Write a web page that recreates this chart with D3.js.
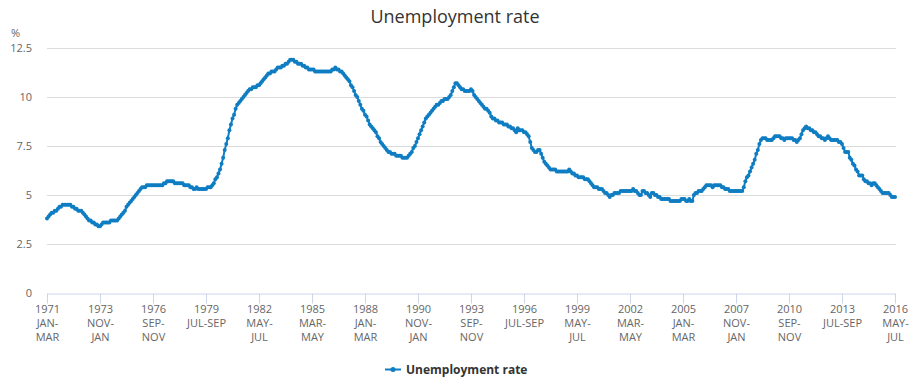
<!DOCTYPE html>
<html lang="en">
<head>
<meta charset="UTF-8">
<title>Unemployment rate</title>
<style>
  body { margin: 0; background: #fff; font-family: "Open Sans", sans-serif; }
  .title { font-size: 18px; fill: #333; }
  .tick text, .unit { font-size: 11px; fill: #666; }
  .grid line { stroke: #dcdcdc; stroke-width: 1; }
  .legend text { font-size: 12px; font-weight: bold; fill: #333; }
</style>
</head>
<body>
<svg id="chart" width="910" height="382"></svg>
<script src="https://cdn.jsdelivr.net/npm/d3@7"></script>
<script>
// rolling three-month periods, one value per starting month
var months = ["JAN", "FEB", "MAR", "APR", "MAY", "JUN", "JUL", "AUG", "SEP", "OCT", "NOV", "DEC"];
var firstYear = 1971;

// unemployment rate, % (1971 JAN-MAR onwards)
var rate1970s = [
  3.8, 3.9, 4.0, 4.1, 4.1, 4.2, 4.2, 4.3, 4.4, 4.4, 4.5, 4.5,
  4.5, 4.5, 4.5, 4.5, 4.4, 4.4, 4.3, 4.3, 4.2, 4.2, 4.2, 4.1,
  4.0, 3.9, 3.8, 3.7, 3.7, 3.6, 3.6, 3.5, 3.5, 3.4, 3.4, 3.5,
  3.6, 3.6, 3.6, 3.6, 3.6, 3.7, 3.7, 3.7, 3.7, 3.7, 3.8, 3.9,
  4.0, 4.1, 4.2, 4.4, 4.5, 4.6, 4.7, 4.8, 4.9, 5.0, 5.1, 5.2,
  5.3, 5.4, 5.4, 5.4, 5.5, 5.5, 5.5, 5.5, 5.5, 5.5, 5.5, 5.5,
  5.5, 5.5, 5.5, 5.6, 5.6, 5.7, 5.7, 5.7, 5.7, 5.7, 5.6, 5.6,
  5.6, 5.6, 5.6, 5.6, 5.5, 5.5, 5.5, 5.5, 5.4, 5.4, 5.3, 5.3,
  5.4, 5.3, 5.3, 5.3, 5.3, 5.3, 5.3, 5.4, 5.4, 5.4, 5.5, 5.6
];
var rate1980s = [
  5.8, 5.9, 6.1, 6.3, 6.6, 6.9, 7.3, 7.6, 7.9, 8.3, 8.6, 8.9,
  9.1, 9.4, 9.6, 9.7, 9.8, 9.9, 10.0, 10.1, 10.2, 10.3, 10.4, 10.4,
  10.5, 10.5, 10.5, 10.6, 10.6, 10.7, 10.8, 10.9, 11.0, 11.1, 11.2, 11.2,
  11.3, 11.3, 11.3, 11.4, 11.5, 11.5, 11.5, 11.6, 11.6, 11.7, 11.7, 11.8,
  11.9, 11.9, 11.9, 11.8, 11.8, 11.7, 11.7, 11.7, 11.6, 11.6, 11.5, 11.5,
  11.4, 11.4, 11.4, 11.4, 11.3, 11.3, 11.3, 11.3, 11.3, 11.3, 11.3, 11.3,
  11.3, 11.3, 11.3, 11.4, 11.4, 11.5, 11.4, 11.4, 11.3, 11.3, 11.2, 11.1,
  11.0, 10.9, 10.8, 10.6, 10.5, 10.3, 10.1, 10.0, 9.8, 9.6, 9.4, 9.3,
  9.1, 9.0, 8.8, 8.6, 8.5, 8.4, 8.3, 8.2, 8.0, 7.9, 7.7, 7.6,
  7.5, 7.4, 7.3, 7.2, 7.2, 7.1, 7.1, 7.1, 7.0, 7.0, 7.0, 7.0
];
var rate1990s = [
  6.9, 6.9, 6.9, 6.9, 7.0, 7.1, 7.2, 7.4, 7.5, 7.7, 7.9, 8.1,
  8.3, 8.5, 8.7, 8.9, 9.0, 9.1, 9.2, 9.3, 9.4, 9.5, 9.6, 9.6,
  9.7, 9.8, 9.8, 9.9, 9.9, 9.9, 10.0, 10.1, 10.3, 10.5, 10.7, 10.7,
  10.6, 10.5, 10.4, 10.4, 10.3, 10.3, 10.3, 10.3, 10.4, 10.3, 10.1, 10.0,
  9.9, 9.8, 9.7, 9.6, 9.5, 9.4, 9.4, 9.3, 9.2, 9.0, 8.9, 8.9,
  8.8, 8.8, 8.7, 8.7, 8.7, 8.6, 8.6, 8.6, 8.5, 8.5, 8.4, 8.4,
  8.3, 8.2, 8.4, 8.3, 8.3, 8.3, 8.2, 8.2, 8.1, 8.0, 7.7, 7.4,
  7.3, 7.2, 7.2, 7.3, 7.3, 7.1, 6.9, 6.7, 6.6, 6.5, 6.4, 6.3,
  6.3, 6.3, 6.3, 6.2, 6.2, 6.2, 6.2, 6.2, 6.2, 6.2, 6.2, 6.3,
  6.2, 6.1, 6.1, 6.0, 6.0, 5.9, 5.9, 5.9, 5.9, 5.8, 5.8, 5.8
];
var rate2000s = [
  5.7, 5.6, 5.5, 5.4, 5.4, 5.4, 5.3, 5.3, 5.3, 5.2, 5.1, 5.1,
  5.0, 4.9, 5.0, 5.0, 5.1, 5.1, 5.1, 5.1, 5.2, 5.2, 5.2, 5.2,
  5.2, 5.2, 5.2, 5.2, 5.3, 5.2, 5.2, 5.1, 5.0, 5.0, 5.2, 5.2,
  5.1, 5.1, 5.0, 4.9, 5.1, 5.1, 5.0, 5.0, 4.9, 4.9, 4.8, 4.8,
  4.8, 4.8, 4.8, 4.8, 4.7, 4.7, 4.7, 4.7, 4.7, 4.7, 4.7, 4.8,
  4.8, 4.8, 4.7, 4.7, 4.8, 4.7, 4.7, 5.0, 5.1, 5.1, 5.2, 5.2,
  5.2, 5.3, 5.4, 5.5, 5.5, 5.5, 5.5, 5.4, 5.5, 5.5, 5.5, 5.5,
  5.5, 5.4, 5.4, 5.3, 5.3, 5.3, 5.2, 5.2, 5.2, 5.2, 5.2, 5.2,
  5.2, 5.2, 5.2, 5.4, 5.7, 5.9, 6.0, 6.2, 6.4, 6.6, 6.8, 7.1,
  7.3, 7.6, 7.8, 7.9, 7.9, 7.9, 7.8, 7.8, 7.8, 7.8, 7.9, 8.0
];
var rate2010s = [
  8.0, 8.0, 8.0, 7.9, 7.9, 7.8, 7.9, 7.9, 7.9, 7.9, 7.9, 7.8,
  7.8, 7.7, 7.8, 7.9, 8.1, 8.3, 8.4, 8.5, 8.4, 8.4, 8.3, 8.3,
  8.2, 8.2, 8.1, 8.0, 8.0, 7.9, 7.9, 7.8, 7.9, 8.0, 7.9, 7.8,
  7.8, 7.8, 7.8, 7.8, 7.7, 7.7, 7.6, 7.4, 7.2, 7.2, 7.2, 6.9,
  6.8, 6.6, 6.5, 6.3, 6.2, 6.0, 6.0, 6.0, 5.8, 5.7, 5.7, 5.6,
  5.6, 5.5, 5.6, 5.6, 5.5, 5.4, 5.3, 5.2, 5.1, 5.1, 5.1, 5.1,
  5.1, 5.0, 4.9, 4.9, 4.9
];

var yTicks = [0, 2.5, 5, 7.5, 10, 12.5];
var tickStep = 34;
var tickLabels = [
  ["1971", "JAN-", "MAR"], ["1973", "NOV-", "JAN"], ["1976", "SEP-", "NOV"],
  ["1979", "JUL-SEP"], ["1982", "MAY-", "JUL"], ["1985", "MAR-", "MAY"],
  ["1988", "JAN-", "MAR"], ["1990", "NOV-", "JAN"], ["1993", "SEP-", "NOV"],
  ["1996", "JUL-SEP"], ["1999", "MAY-", "JUL"], ["2002", "MAR-", "MAY"],
  ["2005", "JAN-", "MAR"], ["2007", "NOV-", "JAN"], ["2010", "SEP-", "NOV"],
  ["2013", "JUL-SEP"], ["2016", "MAY-", "JUL"]
];

var values = rate1970s.concat(rate1980s, rate1990s, rate2000s, rate2010s);
var periods = values.map(function(v, i) {
  var y = firstYear + Math.floor(i / 12), m = i % 12;
  return y + " " + months[m] + "-" + months[(m + 2) % 12];
});
var data = values.map(function(v, i) { return {period: periods[i], value: v}; });

var lineColor = "#0f7dc2";
var svg = d3.select("#chart");
var margin = {left: 47, right: 15, top: 48, bottom: 89};
var width = 910, height = 382;

var x = d3.scalePoint()
    .domain(periods)
    .range([margin.left, width - margin.right]);

var y = d3.scaleLinear()
    .domain([0, 12.5])
    .range([height - margin.bottom, margin.top]);

svg.append("text")
    .attr("class", "title")
    .attr("x", width / 2)
    .attr("y", 23)
    .attr("text-anchor", "middle")
    .text("Unemployment rate");

svg.append("text")
    .attr("class", "unit")
    .attr("x", 11)
    .attr("y", 37)
    .text("%");

// gridlines
svg.append("g")
    .attr("class", "grid")
    .selectAll("line")
    .data(yTicks.slice(1))
    .enter().append("line")
    .attr("x1", margin.left)
    .attr("x2", width - margin.right + 1)
    .attr("y1", function(d) { return Math.round(y(d)) + 0.5; })
    .attr("y2", function(d) { return Math.round(y(d)) + 0.5; });

// y axis labels
var yAxis = svg.append("g")
    .attr("transform", "translate(" + margin.left + ",0)")
    .call(d3.axisLeft(y).tickValues(yTicks).tickSize(0).tickPadding(15)
        .tickFormat(function(d) { return String(d); }));
yAxis.select(".domain").remove();
yAxis.selectAll("text").style("font-family", "'Open Sans', sans-serif");

// x axis
var tickValues = tickLabels.map(function(d, i) {
  return periods[Math.min(i * tickStep, periods.length - 1)];
});
var xAxis = svg.append("g")
    .attr("transform", "translate(0," + (Math.round(y(0)) + 0.5) + ")")
    .call(d3.axisBottom(x).tickValues(tickValues).tickSize(10).tickSizeOuter(0));
xAxis.select(".domain").attr("stroke", "#ccd6eb");
xAxis.selectAll(".tick line").attr("stroke", "#ccd6eb");
xAxis.selectAll(".tick text")
    .style("font-family", "'Open Sans', sans-serif")
    .attr("y", 0).attr("dy", null)
    .each(function(d, i) {
      var t = d3.select(this).text("");
      tickLabels[i].forEach(function(line, k) {
        t.append("tspan").attr("x", 0).attr("y", 19 + k * 14).text(line);
      });
    });

// series
var line = d3.line()
    .x(function(d) { return x(d.period); })
    .y(function(d) { return y(d.value); });

svg.append("path")
    .datum(data)
    .attr("fill", "none")
    .attr("stroke", lineColor)
    .attr("stroke-width", 2)
    .attr("stroke-linejoin", "round")
    .attr("d", line);

svg.append("g")
    .selectAll("circle")
    .data(data)
    .enter().append("circle")
    .attr("cx", function(d) { return x(d.period); })
    .attr("cy", function(d) { return y(d.value); })
    .attr("r", 2)
    .attr("fill", lineColor);

// legend
var legend = svg.append("g").attr("class", "legend");
legend.append("line")
    .attr("x1", 385).attr("x2", 401)
    .attr("y1", 369.5).attr("y2", 369.5)
    .attr("stroke", lineColor).attr("stroke-width", 2);
legend.append("circle")
    .attr("cx", 393).attr("cy", 369.5).attr("r", 2.5)
    .attr("fill", lineColor);
legend.append("text")
    .attr("x", 406).attr("y", 374)
    .text("Unemployment rate");
</script>
</body>
</html>
